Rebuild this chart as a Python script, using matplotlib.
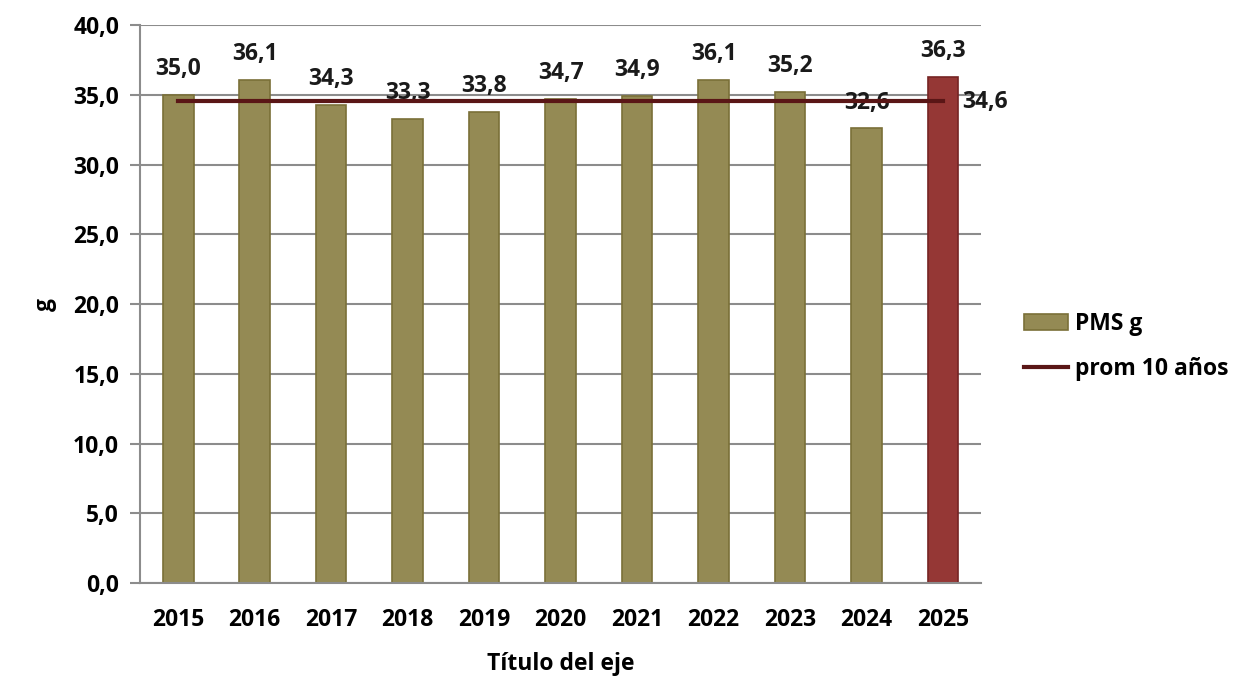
import matplotlib.pyplot as plt
from matplotlib.patches import Patch
from matplotlib.lines import Line2D

plt.rcParams['font.family'] = ['Open Sans', 'DejaVu Sans']
plt.rcParams['font.weight'] = 'bold'

years = ['2015', '2016', '2017', '2018', '2019', '2020', '2021', '2022', '2023', '2024', '2025']
pms = [35.0, 36.1, 34.3, 33.3, 33.8, 34.7, 34.9, 36.1, 35.2, 32.6, 36.3]
prom = 34.6

olive = '#948a54'
olive_edge = '#7a7038'
red = '#953735'
red_edge = '#762424'
line_col = '#5a1616'
grid_col = '#8c8c8c'
fs = 16.5


def fmt(v):
    return f'{v:.1f}'.replace('.', ',')


fig = plt.figure(figsize=(12.5, 7), dpi=100)
ax = fig.add_axes([0.112, 0.167, 0.673, 0.797])

x = list(range(len(years)))
colors = [olive] * (len(years) - 1) + [red]
edges = [olive_edge] * (len(years) - 1) + [red_edge]
ax.bar(x, pms, width=0.4, color=colors, edgecolor=edges, linewidth=1.2, zorder=2)

for xi, v in zip(x, pms):
    ax.annotate(fmt(v), (xi, v), xytext=(0, 10), textcoords='offset points',
                ha='center', va='bottom', fontsize=fs, fontweight='bold', color='#1a1a1a')

ax.plot([x[0], x[-1]], [prom, prom], color=line_col, linewidth=3, zorder=3)
ax.annotate(fmt(prom), (x[-1], prom), xytext=(14, -1), textcoords='offset points',
            ha='left', va='center', fontsize=fs, fontweight='bold', color='#1a1a1a')

ax.set_xlim(-0.5, len(years) - 0.5)
ax.set_ylim(0, 40)
ax.set_yticks(range(0, 41, 5))
ax.set_yticklabels([fmt(t) for t in range(0, 41, 5)])
ax.set_xticks(x)
ax.set_xticklabels(years)
ax.yaxis.grid(True, color=grid_col, linewidth=1.5, zorder=0)
ax.set_axisbelow(True)

for s in ['top', 'right']:
    ax.spines[s].set_visible(False)
for s in ['left', 'bottom']:
    ax.spines[s].set_color(grid_col)
    ax.spines[s].set_linewidth(1.5)

ax.tick_params(axis='y', length=7, width=1.5, color=grid_col, pad=8, labelsize=fs)
ax.tick_params(axis='x', length=0, pad=18, labelsize=fs)
for lab in ax.get_xticklabels() + ax.get_yticklabels():
    lab.set_fontweight('bold')

ax.set_xlabel('Título del eje', fontsize=fs, fontweight='bold', labelpad=14)
ax.set_ylabel('g', fontsize=fs, fontweight='bold', labelpad=12)

handles = [Patch(facecolor=olive, edgecolor=olive_edge, linewidth=1.2),
           Line2D([0], [0], color=line_col, linewidth=3)]
fig.legend(handles, ['PMS g', 'prom 10 años'], loc='center left',
           bbox_to_anchor=(0.803, 0.505), frameon=False, fontsize=fs,
           handlelength=1.9, handleheight=0.65, labelspacing=0.9, handletextpad=0.3)

fig.savefig('out.png', dpi=100)
